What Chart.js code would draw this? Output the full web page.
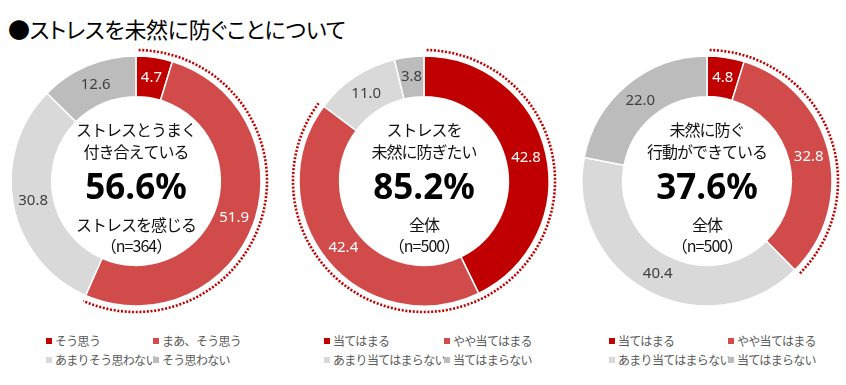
<!DOCTYPE html>
<html lang="ja">
<head>
<meta charset="utf-8">
<script src="https://cdn.jsdelivr.net/npm/chart.js@4/dist/chart.umd.min.js"></script>
<style>
  html, body { margin: 0; padding: 0; background: #fff; }
  body { width: 846px; height: 385px; position: relative; overflow: hidden;
         font-family: "Noto Sans CJK JP", "Noto Sans", sans-serif; }
  #title { position: absolute; left: 8px; top: 12px; font-size: 22px; color: #000;
           font-feature-settings: "palt"; white-space: nowrap; letter-spacing: -0.3px; }
  .box { position: absolute; top: 41px; width: 280px; height: 280px; }
  .legend { position: absolute; font-size: 12px; color: #595959; letter-spacing: -0.7px; }
  .item { position: absolute; white-space: nowrap; line-height: 14px; }
  .item i { position: absolute; left: -9px; top: 4px; width: 6px; height: 6px; }
</style>
</head>
<body>
<div id="title">●ストレスを未然に防ぐことについて</div>
<div class="box" style="left:-4px"><canvas id="c1" width="280" height="280"></canvas></div>
<div class="box" style="left:284px"><canvas id="c2" width="280" height="280"></canvas></div>
<div class="box" style="left:567px"><canvas id="c3" width="280" height="280"></canvas></div>
<div class="legend" id="lg1"></div>
<div class="legend" id="lg2"></div>
<div class="legend" id="lg3"></div>
<script>
// データ
const labels1 = ['そう思う', 'まあ、そう思う', 'あまりそう思わない', 'そう思わない'];
const labels23 = ['当てはまる', 'やや当てはまる', 'あまり当てはまらない', '当てはまらない'];

const values1 = [4.7, 51.9, 30.8, 12.6];
const values2 = [42.8, 42.4, 11.0, 3.8];
const values3 = [4.8, 32.8, 40.4, 22.0];

const headings = [['ストレスとうまく', '付き合えている'], ['ストレスを', '未然に防ぎたい'], ['未然に防ぐ', '行動ができている']];
const bases = [['ストレスを感じる', '（n=364）'], ['全体', '（n=500）'], ['全体', '（n=500）']];

const colors = ['#C00000', '#D24B4B', '#D9D9D9', '#BCBCBC'];
const labelColors = ['#ffffff', '#ffffff', '#404040', '#404040'];

// 中央テキスト・数値ラベル・点線
const donutExtras = {
  id: 'donutExtras',
  afterDraw(chart, args, opts) {
    const ctx = chart.ctx;
    const meta = chart.getDatasetMeta(0);
    const arcs = meta.data;
    const cx = arcs[0].x, cy = arcs[0].y;
    const outer = arcs[0].outerRadius, inner = arcs[0].innerRadius;
    const vals = chart.data.datasets[0].data;

    ctx.save();
    // 値ラベル
    ctx.font = '15px "Noto Sans", sans-serif';
    ctx.textAlign = 'center';
    ctx.textBaseline = 'middle';
    arcs.forEach((a, i) => {
      const mid = (a.startAngle + a.endAngle) / 2;
      const r = (outer + inner) / 2;
      ctx.fillStyle = labelColors[i];
      ctx.fillText(vals[i].toFixed(1), cx + Math.cos(mid) * r, cy + Math.sin(mid) * r);
    });

    // 点線 (上位2項目)
    ctx.strokeStyle = '#C00000';
    ctx.lineWidth = 2.6;
    ctx.setLineDash([2, 1.7]);
    ctx.beginPath();
    ctx.arc(cx, cy, outer + 6, arcs[0].startAngle + 0.02, arcs[1].endAngle);
    ctx.stroke();
    ctx.setLineDash([]);

    // 中央テキスト
    ctx.fillStyle = '#111';
    ctx.font = '16px "Noto Sans CJK JP", sans-serif';
    if ('letterSpacing' in ctx) ctx.letterSpacing = '-1px';
    ctx.fillText(opts.heading[0], cx, cy - 51);
    ctx.fillText(opts.heading[1], cx, cy - 29);
    ctx.fillText(opts.base[0], cx, cy + 44);
    ctx.fillText(opts.base[1], cx, cy + 65);
    if ('letterSpacing' in ctx) ctx.letterSpacing = '0px';
    ctx.fillStyle = '#000';
    ctx.font = 'bold 35px "Noto Sans", sans-serif';
    ctx.fillText((vals[0] + vals[1]).toFixed(1) + '%', cx, cy + 8);
    ctx.restore();
  }
};

function drawDonut(id, labels, values, idx) {
  new Chart(document.getElementById(id), {
    type: 'doughnut',
    data: {
      labels: labels,
      datasets: [{
        data: values,
        backgroundColor: colors,
        borderColor: '#ffffff',
        borderWidth: 1.5
      }]
    },
    options: {
      responsive: false,
      animation: false,
      radius: 125,
      cutout: '67.5%',
      layout: { padding: 0 },
      plugins: {
        legend: { display: false },
        tooltip: { enabled: false },
        donutExtras: { heading: headings[idx], base: bases[idx] }
      }
    },
    plugins: [donutExtras]
  });
}

function drawLegend(id, labels, left, col2) {
  const el = document.getElementById(id);
  el.style.left = left + 'px';
  el.style.top = '334px';
  el.innerHTML = labels.map((l, i) => {
    const x = (i % 2) * col2;
    const y = Math.floor(i / 2) * 19;
    return `<div class="item" style="left:${x}px;top:${y}px"><i style="background:${colors[i]}"></i>${l}</div>`;
  }).join('');
}

drawDonut('c1', labels1, values1, 0);
drawDonut('c2', labels23, values2, 1);
drawDonut('c3', labels23, values3, 2);

drawLegend('lg1', labels1, 55, 107);
drawLegend('lg2', labels23, 333, 120);
drawLegend('lg3', labels23, 618, 119);
</script>
</body>
</html>
